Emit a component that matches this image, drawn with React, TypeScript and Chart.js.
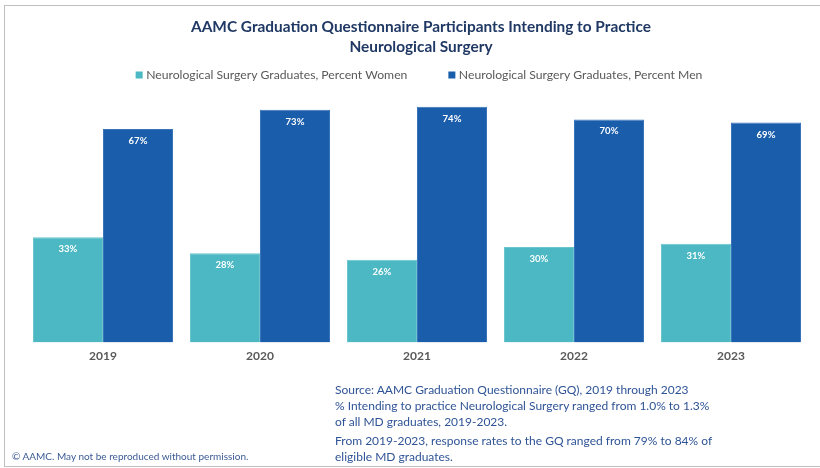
import React, { useEffect, useRef } from "react";
import { Chart, registerables } from "chart.js";

Chart.register(...registerables);

const TITLE_LINES = [
  "AAMC Graduation Questionnaire Participants Intending to Practice",
  "Neurological Surgery",
];
const YEARS = ["2019", "2020", "2021", "2022", "2023"];
const WOMEN = [33, 28, 26, 30, 31];
const MEN = [67, 73, 74, 70, 69];
const SERIES_LABELS = [
  "Neurological Surgery Graduates, Percent Women",
  "Neurological Surgery Graduates, Percent Men",
];
const SOURCE_LINES_A = [
  "Source: AAMC Graduation Questionnaire (GQ), 2019 through 2023",
  "% Intending to practice Neurological Surgery ranged from 1.0% to 1.3%",
  "of all MD graduates, 2019-2023.",
];
const SOURCE_LINES_B = [
  "From 2019-2023, response rates to the GQ ranged from 79% to 84% of",
  "eligible MD graduates.",
];
const COPYRIGHT = "© AAMC. May not be reproduced without permission.";

const FONT = "Lato, 'Open Sans', sans-serif";
const WOMEN_COLOR = "#4BB8C3";
const MEN_COLOR = "#1A5DAB";

const overlayPlugin = {
  id: "overlay",
  afterDatasetsDraw(chart: any) {
    const ctx = chart.ctx;
    ctx.save();
    ctx.fillStyle = "#FFFFFF";
    ctx.font = `bold 9.5px ${FONT}`;
    ctx.textAlign = "center";
    ctx.textBaseline = "middle";
    chart.data.datasets.forEach((ds: any, di: number) => {
      const meta = chart.getDatasetMeta(di);
      meta.data.forEach((el: any, i: number) => {
        ctx.fillText(`${ds.data[i]}%`, el.x, el.y + 12);
      });
    });
    ctx.restore();
  },
  afterDraw(chart: any) {
    const ctx = chart.ctx;
    ctx.save();
    // title
    ctx.fillStyle = "#1F3864";
    ctx.font = `bold 15.4px ${FONT}`;
    ctx.textAlign = "center";
    ctx.textBaseline = "middle";
    ctx.fillText(TITLE_LINES[0], 421, 27);
    ctx.fillText(TITLE_LINES[1], 421, 47);
    // legend
    ctx.font = `12.2px ${FONT}`;
    ctx.textAlign = "left";
    const box = 7;
    const gapBox = 3.5;
    const gapItem = 41;
    const items = chart.data.datasets.map((ds: any) => ({
      label: ds.label,
      color: ds.backgroundColor,
      w: ctx.measureText(ds.label).width,
    }));
    const total =
      items.reduce((s: number, it: any) => s + box + gapBox + it.w, 0) +
      gapItem * (items.length - 1);
    let x = 419 - total / 2;
    const y = 75;
    items.forEach((it: any) => {
      ctx.fillStyle = it.color;
      ctx.fillRect(x, y - box / 2, box, box);
      x += box + gapBox;
      ctx.fillStyle = "#595959";
      ctx.fillText(it.label, x, y);
      x += it.w + gapItem;
    });
    ctx.restore();
  },
};

export default function App() {
  const ref = useRef<HTMLCanvasElement | null>(null);

  useEffect(() => {
    if (!ref.current) return;
    const chart = new Chart(ref.current, {
      type: "bar",
      data: {
        labels: YEARS,
        datasets: [
          {
            label: SERIES_LABELS[0],
            data: WOMEN,
            backgroundColor: WOMEN_COLOR,
            borderColor: "#6BC5CE",
            borderWidth: 1,
            barPercentage: 1,
            categoryPercentage: 0.892,
          },
          {
            label: SERIES_LABELS[1],
            data: MEN,
            backgroundColor: MEN_COLOR,
            borderColor: "#3A74BA",
            borderWidth: 1,
            barPercentage: 1,
            categoryPercentage: 0.892,
          },
        ],
      },
      options: {
        responsive: false,
        animation: false,
        layout: { padding: { top: 87.5, left: 24.5, right: 10.5, bottom: 99 } },
        plugins: {
          legend: { display: false },
          title: { display: false },
          tooltip: { enabled: false },
        },
        scales: {
          x: {
            grid: { display: false, drawTicks: false },
            border: { display: false },
            ticks: {
              color: "#595959",
              font: { family: FONT, size: 12, weight: "bold" },
              padding: 6,
            },
          },
          y: {
            display: false,
            min: 0,
            max: 80,
          },
        },
      },
      plugins: [overlayPlugin],
    });
    return () => chart.destroy();
  }, []);

  return (
    <div
      style={{
        position: "absolute",
        left: 0,
        top: 0,
        width: 820,
        height: 468,
        background: "#FFFFFF",
        overflow: "hidden",
        fontFamily: FONT,
      }}
    >
      <div
        style={{
          position: "absolute",
          left: 4,
          top: 5,
          width: 830,
          height: 462,
          borderTop: "1px solid #BFBFBF",
          borderLeft: "1px solid #BFBFBF",
          borderBottom: "1px solid #BFBFBF",
          boxSizing: "border-box",
        }}
      />
      <canvas
        ref={ref}
        width={820}
        height={468}
        style={{ position: "absolute", left: 0, top: 0 }}
      />
      <div
        style={{
          position: "absolute",
          left: 335,
          top: 382,
          fontSize: 12,
          lineHeight: "16px",
          color: "#2F5496",
          whiteSpace: "nowrap",
        }}
      >
        {SOURCE_LINES_A.map((t) => (
          <div key={t}>{t}</div>
        ))}
        <div style={{ marginTop: 3 }}>
          {SOURCE_LINES_B.map((t) => (
            <div key={t}>{t}</div>
          ))}
        </div>
      </div>
      <div
        style={{
          position: "absolute",
          left: 12,
          top: 449,
          fontSize: 10,
          lineHeight: "14px",
          color: "#3B5A94",
          whiteSpace: "nowrap",
        }}
      >
        {COPYRIGHT}
      </div>
    </div>
  );
}
